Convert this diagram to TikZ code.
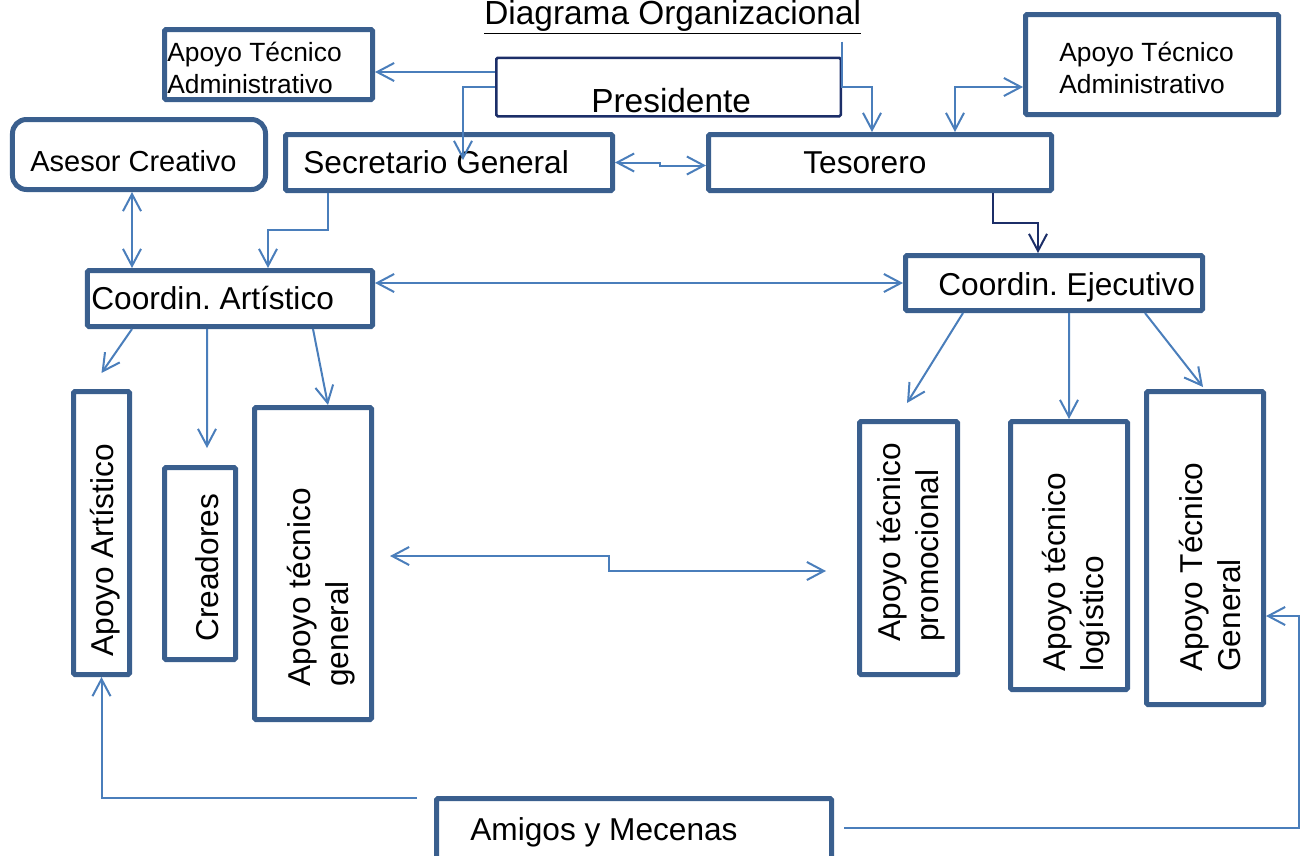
\documentclass[tikz,border=0pt]{standalone}
\usepackage{fontspec}
\setmainfont{Liberation Sans}
\usetikzlibrary{arrows.meta,calc}
\definecolor{boxblue}{HTML}{3A5F8E}
\definecolor{lineblue}{HTML}{4A7EBB}
\definecolor{navy}{HTML}{1C2E68}
\frenchspacing

\begin{document}
\begin{tikzpicture}[x=0.2mm,y=-0.2mm,>={Straight Barb[length=3.4mm,width=3.6mm]},
  box/.style={draw=boxblue,line width=1mm,rounded corners=0.3mm,inner sep=0},
  conn/.style={draw=lineblue,line width=0.4mm,->},
  conn2/.style={conn,<->},
  txt/.style={inner sep=0,anchor=base west,font=\fontsize{18}{21.6}\selectfont},
  small/.style={txt,align=left,font=\fontsize{15}{18.2}\selectfont},
  vtxt/.style={txt,rotate=90,align=left}]
\useasboundingbox (0,0) rectangle (1308,855);

\node[txt,font=\fontsize{19}{22}\selectfont] (title) at (484,24) {\underline{Diagrama Organizacional}};

\node[box,draw=navy,line width=0.5mm,minimum width=68.9mm,minimum height=11.7mm] (pres) at (668.5,87) {};
\node[box,minimum width=41.6mm,minimum height=14mm] (ataL) at (268.5,64.5) {};
\node[box,minimum width=50.6mm,minimum height=20mm] (ataR) at (1152,64.5) {};
\node[box,rounded corners=2.8mm,minimum width=50.6mm,minimum height=14mm] (ases) at (139,154.5) {};
\node[box,minimum width=65.4mm,minimum height=11.2mm] (secr) at (449,162.5) {};
\node[box,minimum width=68.6mm,minimum height=11.2mm] (teso) at (880,162.5) {};
\node[box,minimum width=57mm,minimum height=11.2mm] (cart) at (230,298.5) {};
\node[box,minimum width=59.4mm,minimum height=11mm] (ceje) at (1054,283) {};
\node[box,minimum width=11.2mm,minimum height=56.6mm] (aart) at (101.5,533) {};
\node[box,minimum width=14.2mm,minimum height=38.4mm] (crea) at (200,563.5) {};
\node[box,minimum width=23.4mm,minimum height=62.4mm] (atg) at (313,563.5) {};
\node[box,minimum width=19.6mm,minimum height=50.6mm] (prom) at (908.5,548) {};
\node[box,minimum width=23.4mm,minimum height=53.6mm] (logi) at (1069,555.5) {};
\node[box,minimum width=23.4mm,minimum height=62.6mm] (tgen) at (1205,548) {};
\node[box,minimum width=79mm,minimum height=18mm] (amig) at (634,843.5) {};

\node[txt,font=\fontsize{19}{22}\selectfont] (presT) at (591,112) {Presidente};
\node[small] (ataLT) at (167,93) {Apoyo Técnico\\Administrativo};
\node[small] (ataRT) at (1059,93) {Apoyo Técnico\\Administrativo};
\node[txt,font=\fontsize{16.5}{20}\selectfont] (asesT) at (30,171) {Asesor Creativo};
\node[txt] (secrT) at (303,173) {Secretario General};
\node[txt] (tesoT) at (803,173) {Tesorero};
\node[txt] (cartT) at (91,309) {Coordin. Artístico};
\node[txt] (cejeT) at (938,295) {Coordin. Ejecutivo};
\node[vtxt] (aartT) at (113,657) {Apoyo Artístico};
\node[vtxt] (creaT) at (218,642) {Creadores};
\node[vtxt] (atgT) at (348,687) {Apoyo técnico\\general};
\node[vtxt] (promT) at (938,642) {Apoyo técnico\\promocional};
\node[vtxt] (logiT) at (1103,672) {Apoyo técnico\\logístico};
\node[vtxt] (tgenT) at (1240,672) {Apoyo Técnico\\General};
\node[txt] (amigT) at (470,840) {Amigos y Mecenas};

\draw[conn] ($(pres.west)+(0,-15)$) coordinate (p1) -- (p1 -| ataL.east);
\draw[conn] (pres.west) -| ($(secr.north)+(14,28)$);
\draw[conn] ($(pres.north east)+(0,-15)$) -- (pres.east) -| ($(teso.north)+(-8,0)$);
\draw[conn2] (secr.east) -- ++(45,0) |- ($(teso.west)+(0,3)$);
\draw[conn2] ($(ataR.west)+(0,22.5)$) -| ($(teso.north east)+(-99,0)$);
\draw[conn,draw=navy] ($(teso.south east)+(-61,0)$) |- ($(ceje.north)+(-16,-30)$) -- ($(ceje.north)+(-16,0)$);
\draw[conn2] ($(ases.south)+(-7,0)$) coordinate (q) -- (q |- cart.north);
\draw[conn] ($(secr.south west)+(45,0)$) |- ($(cart.north)+(38,-38)$) -- ($(cart.north)+(38,0)$);
\draw[conn2] (ceje.west -| cart.east) -- (ceje.west);
\draw[conn] ($(cart.south west)+(47,0)$) -- ($(aart.north)+(0,-16)$);
\draw[conn] ($(cart.south west)+(122,0)$) -- ($(crea.north)+(7,-17)$);
\draw[conn] ($(cart.south west)+(228,0)$) -- ($(atg.north)+(15,0)$);
\draw[conn] ($(ceje.south west)+(60,0)$) -- ($(prom.north)+(-1.5,-16)$);
\draw[conn] ($(ceje.south west)+(166,0)$) -- (logi.north);
\draw[conn] ($(ceje.south west)+(242,0)$) -- ($(tgen.north)+(-2,-2)$);
\draw[conn2] ($(atg.east)+(16,-7.5)$) -- ++(219,0) |- ($(prom.west)+(-31,23)$);
\draw[conn] ($(amig.north west)+(-17,2)$) -| (aart.south);
\draw[conn] ($(amig.north east)+(10,32)$) -| ($(tgen.east)+(33,68)$) -- ($(tgen.east)+(0,68)$);
\end{tikzpicture}
\end{document}
